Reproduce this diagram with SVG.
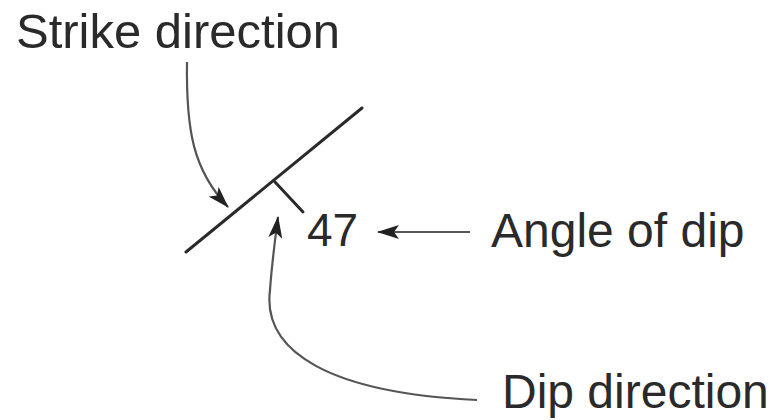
<svg xmlns="http://www.w3.org/2000/svg" width="774" height="420" viewBox="0 0 774 420">
<style>
text{font-family:"Liberation Sans",Arial,sans-serif;font-size:48px;fill:#2a2a2a}
.sym{stroke:#2a2a2a;stroke-width:3;fill:none;stroke-linecap:round}
.arr{stroke:#555;stroke-width:2.2;fill:none;marker-end:url(#ah)}
</style>
<defs>
<marker id="ah" viewBox="0 0 22 14" refX="21" refY="7" markerWidth="22" markerHeight="14" markerUnits="userSpaceOnUse" orient="auto">
<path d="M0,0 L22,7 L0,14 L5,7 Z" fill="#222"/>
</marker>
</defs>
<rect width="774" height="420" fill="#fff"/>
<g id="symbol">
<line class="sym" x1="186" y1="252" x2="362" y2="108"/>
<line class="sym" x1="275" y1="182" x2="303" y2="212"/>
</g>
<g id="strike-label"><text x="16" y="48" style="font-size:49px">Strike direction</text></g>
<g id="dip-value"><text x="307" y="246" style="font-size:46px">47</text></g>
<g id="angle-label"><text x="491" y="247">Angle of dip</text></g>
<g id="dip-label"><text x="502" y="408">Dip direction</text></g>
<g id="connectors">
<path class="arr" d="M187,62 C186,130 193,170 228,207"/>
<line class="arr" x1="470" y1="232" x2="378" y2="232"/>
<path class="arr" d="M477,400 C330,393 262,352 270,290 C272,262 275,240 278,217"/>
</g>
</svg>
